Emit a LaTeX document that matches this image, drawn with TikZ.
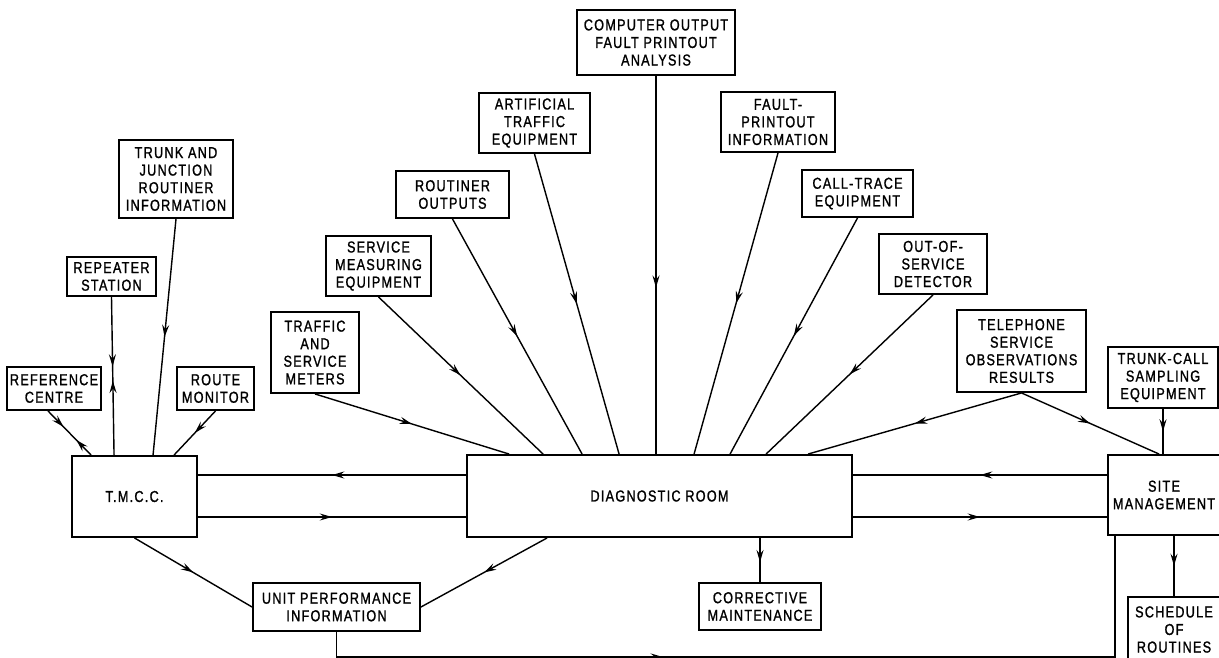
\documentclass[tikz,border=0pt]{standalone}
\usepackage{fontspec}
\setmainfont{Liberation Sans}
\newfontfamily\lettering[FakeStretch=0.8,FakeBold=1.2,LetterSpace=8]{Liberation Sans}
\usetikzlibrary{arrows.meta, calc, decorations.markings}

\tikzset{
  blk/.style={draw, line width=1.1pt, align=center, inner sep=1pt, font=\lettering\fontsize{9}{10}\selectfont},
  flow/.style={line width=0.8pt, postaction={decorate},
    decoration={markings, mark=at position #1 with {\arrow{>}}}},
  flow/.default=0.5,
  twoway/.style 2 args={line width=0.8pt, postaction={decorate},
    decoration={markings, mark=at position #1 with {\arrow{>}},
      mark=at position #2 with {\arrowreversed{>}}}}
}

\begin{document}
\begin{tikzpicture}[x=0.02cm, y=-0.02cm, >={Stealth[length=7pt,width=4pt,inset=2.5pt]}]
    \useasboundingbox (0,0) rectangle (1219,658);

    % sources above the diagnostic room
    \node[blk, minimum width=3.16cm, minimum height=1.30cm] (cop) at (656,42.5) {COMPUTER OUTPUT\\FAULT PRINTOUT\\ANALYSIS};
    \node[blk, minimum width=2.22cm, minimum height=1.20cm] (atf) at (534.5,123) {ARTIFICIAL\\TRAFFIC\\EQUIPMENT};
    \node[blk, minimum width=2.28cm, minimum height=1.20cm] (fpi) at (778,122) {FAULT-\\PRINTOUT\\INFORMATION};
    \node[blk, minimum width=2.26cm, minimum height=0.94cm] (rto) at (452.5,194.5) {ROUTINER\\OUTPUTS};
    \node[blk, minimum width=2.22cm, minimum height=0.94cm] (ctr) at (857.5,193.5) {CALL-TRACE\\EQUIPMENT};
    \node[blk, minimum width=2.10cm, minimum height=1.20cm] (sme) at (378.5,266) {SERVICE\\MEASURING\\EQUIPMENT};
    \node[blk, minimum width=2.16cm, minimum height=1.20cm] (osd) at (933,264) {OUT-OF-\\SERVICE\\DETECTOR};
    \node[blk, minimum width=1.76cm, minimum height=1.62cm] (tsm) at (315,352.5) {TRAFFIC\\AND\\SERVICE\\METERS};
    \node[blk, minimum width=2.58cm, minimum height=1.64cm] (tso) at (1021.5,351) {TELEPHONE\\SERVICE\\OBSERVATIONS\\RESULTS};
    \node[blk, minimum width=2.20cm, minimum height=1.22cm] (tcs) at (1163,377.5) {TRUNK-CALL\\SAMPLING\\EQUIPMENT};

    % around the T.M.C.C.
    \node[blk, minimum width=2.28cm, minimum height=1.56cm] (tjr) at (176,179) {TRUNK AND\\JUNCTION\\ROUTINER\\INFORMATION};
    \node[blk, minimum width=1.78cm, minimum height=0.78cm] (rps) at (111.5,276.5) {REPEATER\\STATION};
    \node[blk, minimum width=1.88cm, minimum height=0.86cm] (rfc) at (54,388.5) {REFERENCE\\CENTRE};
    \node[blk, minimum width=1.54cm, minimum height=0.86cm] (rtm) at (215.5,388.5) {ROUTE\\MONITOR};

    % main row
    \node[blk, minimum width=2.50cm, minimum height=1.62cm] (tmcc) at (134.5,496.5) {T.M.C.C.};
    \node[blk, minimum width=7.70cm, minimum height=1.64cm] (dgr) at (659.5,496) {DIAGNOSTIC ROOM};
    \node[blk, minimum width=2.24cm, minimum height=1.60cm] (stm) at (1164,495) {SITE\\MANAGEMENT};

    % bottom row
    \node[blk, minimum width=3.34cm, minimum height=0.96cm] (upi) at (336.5,607) {UNIT PERFORMANCE\\INFORMATION};
    \node[blk, minimum width=2.44cm, minimum height=0.94cm] (cmn) at (760,606.5) {CORRECTIVE\\MAINTENANCE};
    \node[blk, minimum width=1.84cm, minimum height=1.30cm] (sor) at (1174,629.5) {SCHEDULE\\OF\\ROUTINES};

    % fan into the diagnostic room
    \draw[flow] (tsm.south) -- ($(dgr.north west)+(43,0)$);
    \draw[flow] (sme.south) -- ($(dgr.north west)+(77,0)$);
    \draw[flow] (rto.south) -- ($(dgr.north west)+(116,0)$);
    \draw[flow] (atf.south) -- ($(dgr.north west)+(153,0)$);
    \draw[flow=0.56] (cop.south) -- (cop.south |- dgr.north);
    \draw[flow] (fpi.south) -- ($(dgr.north west)+(228,0)$);
    \draw[flow] (ctr.south) -- ($(dgr.north west)+(264,0)$);
    \draw[flow] (osd.south) -- ($(dgr.north west)+(300,0)$);
    \draw[flow] (tso.south) -- ($(dgr.north west)+(342,0)$);
    \draw[flow] (tso.south) -- ($(stm.north west)+(52,0)$);
    \draw[flow] (tcs.south) -- (tcs.south |- stm.north);

    % into the T.M.C.C.
    \draw[twoway={0.36}{0.66}] ($(rfc.south)+(-6,0)$) -- ($(tmcc.north west)+(20,0)$);
    \draw[twoway={0.44}{0.53}] (rps.south) -- ($(tmcc.north west)+(43,0)$);
    \draw[flow] (tjr.south) -- ($(tmcc.north west)+(82,0)$);
    \draw[flow] (rtm.south) -- ($(tmcc.north west)+(103,0)$);

    % links along the main row
    \coordinate (w1) at ($(dgr.west)+(0,-21)$);
    \coordinate (w2) at ($(dgr.west)+(0,21)$);
    \coordinate (e1) at ($(dgr.east)+(0,-21)$);
    \coordinate (e2) at ($(dgr.east)+(0,21)$);
    \draw[flow] (w1) -- (tmcc.east |- w1);
    \draw[flow] (tmcc.east |- w2) -- (w2);
    \draw[flow] (stm.west |- e1) -- (e1);
    \draw[flow] (e2) -- (stm.west |- e2);

    % downwards
    \draw[flow] (tmcc.south) -- (upi.west);
    \draw[flow] ($(dgr.south west)+(81,0)$) -- (upi.east);
    \draw[flow=0.55] (cmn.north |- dgr.south) -- (cmn.north);
    \draw[flow] (sor.north |- stm.south) -- (sor.north);
    \draw[flow=0.38] (upi.south) -- ++(0,25) -| ($(stm.south west)+(8,0)$);
\end{tikzpicture}
\end{document}
